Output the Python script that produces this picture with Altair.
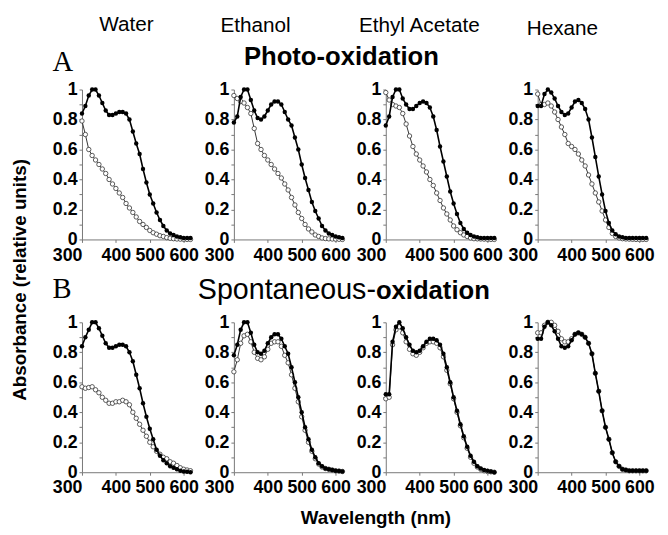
import altair as alt
import pandas as pd

WAVELENGTH = [300, 310, 320, 330, 340, 350, 360, 370, 380, 390, 400, 410, 420, 430, 440,
              450, 460, 470, 480, 490, 500, 510, 520, 530, 540, 550, 560, 570, 580, 590,
              600, 610, 620]

SOLVENTS = ["Water", "Ethanol", "Ethyl Acetate", "Hexane"]
CONDITIONS = ["Photo", "Spontaneous"]

# ---- Photo-oxidation (row A) ----
photo_water_filled = [0.84, 0.89, 0.96, 1.0, 1.0, 0.96, 0.91, 0.86, 0.83, 0.83, 0.84, 0.85, 0.85,
                      0.84, 0.80, 0.72, 0.64, 0.57, 0.47, 0.38, 0.30, 0.24, 0.18, 0.13, 0.09, 0.06,
                      0.04, 0.03, 0.02, 0.015, 0.01, 0.01, 0.01]
photo_water_open = [0.79, 0.70, 0.60, 0.56, 0.53, 0.50, 0.47, 0.44, 0.40, 0.37, 0.34, 0.31, 0.28,
                    0.24, 0.21, 0.18, 0.15, 0.12, 0.10, 0.08, 0.06, 0.045, 0.035, 0.025, 0.02, 0.012,
                    0.008, 0.005, 0.003, 0.002, 0.001, 0.0, 0.0]
photo_ethanol_filled = [0.78, 0.82, 0.95, 1.0, 1.0, 0.93, 0.86, 0.81, 0.80, 0.82, 0.86, 0.90, 0.92,
                        0.92, 0.90, 0.85, 0.80, 0.76, 0.68, 0.60, 0.50, 0.41, 0.33, 0.25, 0.19, 0.14,
                        0.09, 0.06, 0.04, 0.03, 0.02, 0.015, 0.01]
photo_ethanol_open = [0.96, 0.94, 0.92, 0.91, 0.88, 0.84, 0.74, 0.64, 0.60, 0.56, 0.53, 0.50, 0.47,
                      0.44, 0.41, 0.37, 0.33, 0.28, 0.23, 0.18, 0.14, 0.10, 0.07, 0.05, 0.03, 0.02,
                      0.01, 0.006, 0.004, 0.003, 0.002, 0.001, 0.0]
photo_ethyl_filled = [0.76, 0.82, 0.95, 1.0, 1.0, 0.94, 0.90, 0.87, 0.87, 0.89, 0.91, 0.92, 0.91,
                      0.88, 0.82, 0.73, 0.62, 0.52, 0.42, 0.32, 0.24, 0.17, 0.11, 0.07, 0.045, 0.03,
                      0.02, 0.015, 0.01, 0.01, 0.01, 0.01, 0.01]
photo_ethyl_open = [0.98, 0.93, 0.90, 0.89, 0.88, 0.84, 0.77, 0.69, 0.62, 0.57, 0.53, 0.49, 0.45,
                    0.40, 0.36, 0.31, 0.26, 0.21, 0.17, 0.13, 0.09, 0.065, 0.045, 0.03, 0.02, 0.01,
                    0.005, 0.004, 0.003, 0.002, 0.001, 0.0, 0.0]
photo_hexane_filled = [0.89, 0.89, 0.97, 1.0, 0.98, 0.94, 0.89, 0.85, 0.83, 0.84, 0.88, 0.92, 0.93,
                       0.91, 0.87, 0.80, 0.68, 0.55, 0.42, 0.30, 0.19, 0.11, 0.06, 0.035, 0.02, 0.015,
                       0.01, 0.01, 0.01, 0.01, 0.01, 0.01, 0.01]
photo_hexane_open = [0.97, 0.90, 0.90, 0.91, 0.89, 0.85, 0.80, 0.75, 0.70, 0.64, 0.62, 0.60, 0.57,
                     0.53, 0.49, 0.43, 0.37, 0.31, 0.25, 0.19, 0.13, 0.08, 0.04, 0.02, 0.01, 0.005,
                     0.003, 0.002, 0.001, 0.0, 0.0, 0.0, 0.0]

# ---- Spontaneous-oxidation (row B) ----
spont_water_filled = [0.84, 0.90, 0.95, 1.0, 1.0, 0.96, 0.91, 0.86, 0.83, 0.83, 0.84, 0.85, 0.85,
                      0.84, 0.80, 0.74, 0.65, 0.56, 0.46, 0.37, 0.29, 0.22, 0.15, 0.11, 0.08, 0.06,
                      0.04, 0.03, 0.02, 0.01, 0.005, 0.003, 0.0]
spont_water_open = [0.57, 0.56, 0.565, 0.57, 0.55, 0.53, 0.50, 0.48, 0.46, 0.46, 0.47, 0.47, 0.48,
                    0.47, 0.45, 0.40, 0.36, 0.32, 0.28, 0.24, 0.20, 0.17, 0.14, 0.12, 0.10, 0.09,
                    0.07, 0.06, 0.045, 0.03, 0.02, 0.015, 0.01]
spont_ethanol_filled = [0.78, 0.85, 0.95, 1.0, 1.0, 0.93, 0.85, 0.80, 0.79, 0.81, 0.86, 0.90, 0.92,
                        0.92, 0.89, 0.84, 0.79, 0.70, 0.60, 0.50, 0.40, 0.30, 0.22, 0.15, 0.10, 0.06,
                        0.04, 0.025, 0.02, 0.015, 0.01, 0.008, 0.005]
spont_ethanol_open = [0.67, 0.75, 0.86, 0.91, 0.92, 0.87, 0.80, 0.76, 0.75, 0.77, 0.82, 0.86, 0.87,
                      0.87, 0.84, 0.78, 0.73, 0.65, 0.56, 0.47, 0.37, 0.28, 0.20, 0.14, 0.09, 0.055,
                      0.035, 0.025, 0.02, 0.015, 0.01, 0.008, 0.005]
spont_ethyl_filled = [0.52, 0.52, 0.87, 0.97, 1.0, 0.96, 0.90, 0.85, 0.81, 0.80, 0.81, 0.84, 0.87,
                      0.89, 0.89, 0.88, 0.85, 0.79, 0.70, 0.60, 0.50, 0.41, 0.32, 0.24, 0.17, 0.11,
                      0.07, 0.04, 0.025, 0.015, 0.01, 0.005, 0.0]
spont_ethyl_open = [0.49, 0.50, 0.85, 0.95, 0.97, 0.93, 0.87, 0.82, 0.79, 0.78, 0.80, 0.83, 0.86,
                    0.87, 0.87, 0.86, 0.83, 0.77, 0.68, 0.59, 0.49, 0.40, 0.31, 0.23, 0.16, 0.10,
                    0.06, 0.035, 0.02, 0.01, 0.005, 0.003, 0.0]
spont_hexane_filled = [0.89, 0.89, 0.97, 1.0, 0.98, 0.94, 0.89, 0.84, 0.83, 0.84, 0.88, 0.92, 0.93,
                       0.92, 0.90, 0.86, 0.79, 0.66, 0.54, 0.41, 0.30, 0.22, 0.13, 0.07, 0.04, 0.02,
                       0.015, 0.01, 0.01, 0.01, 0.01, 0.01, 0.01]
spont_hexane_open = [0.93, 0.93, 0.98, 1.0, 1.0, 0.98, 0.94, 0.89, 0.87, 0.87, 0.89, 0.92, 0.93,
                     0.92, 0.90, 0.86, 0.79, 0.66, 0.54, 0.41, 0.30, 0.22, 0.13, 0.07, 0.04, 0.02,
                     0.015, 0.01, 0.01, 0.01, 0.01, 0.01, 0.01]

SERIES = {
    ("Photo", "Water"): (photo_water_filled, photo_water_open),
    ("Photo", "Ethanol"): (photo_ethanol_filled, photo_ethanol_open),
    ("Photo", "Ethyl Acetate"): (photo_ethyl_filled, photo_ethyl_open),
    ("Photo", "Hexane"): (photo_hexane_filled, photo_hexane_open),
    ("Spontaneous", "Water"): (spont_water_filled, spont_water_open),
    ("Spontaneous", "Ethanol"): (spont_ethanol_filled, spont_ethanol_open),
    ("Spontaneous", "Ethyl Acetate"): (spont_ethyl_filled, spont_ethyl_open),
    ("Spontaneous", "Hexane"): (spont_hexane_filled, spont_hexane_open),
}

rows = []
for (cond, solv), (filled, opened) in SERIES.items():
    for wl, v in zip(WAVELENGTH, filled):
        rows.append({"cond": cond, "solvent": solv, "series": "filled", "wl": wl, "val": v})
    for wl, v in zip(WAVELENGTH, opened):
        rows.append({"cond": cond, "solvent": solv, "series": "open", "wl": wl, "val": v})
df = pd.DataFrame(rows)

W, H = 110, 152
LABEL_FONT = "Liberation Sans, Arial, sans-serif"

x_enc = alt.X(
    "wl:Q",
    title=None,
    scale=alt.Scale(domain=[300, 620], nice=False, zero=False),
    axis=alt.Axis(
        values=[300, 400, 500, 600],
        labelAlign={"condition": {"test": "datum.value == 300", "value": "right"}, "value": "center"},
        tickSize=3,
        labelPadding=4,
    ),
)
y_enc = alt.Y(
    "val:Q",
    title=None,
    scale=alt.Scale(domain=[0, 1], nice=False),
    axis=alt.Axis(
        values=[0, 0.1, 0.2, 0.3, 0.4, 0.5, 0.6, 0.7, 0.8, 0.9, 1.0],
        labelExpr="datum.value == 0 ? '0' : (datum.value == 1 ? '1' : (round(datum.value*10) % 2 == 0 ? format(datum.value, '.1f') : ''))",
        tickSize=3,
        labelPadding=2,
    ),
)


def panel(cond, solvent):
    base = alt.Chart(df).transform_filter(
        (alt.datum.cond == cond) & (alt.datum.solvent == solvent)
    )
    op = base.transform_filter(alt.datum.series == "open")
    fi = base.transform_filter(alt.datum.series == "filled")
    layers = [
        op.mark_line(color="#333333", strokeWidth=1).encode(x=x_enc, y=y_enc),
        op.mark_point(shape="circle", filled=True, fill="white", stroke="#333333",
                      strokeWidth=0.8, size=20, opacity=1).encode(x=x_enc, y=y_enc),
        fi.mark_line(color="black", strokeWidth=1.6).encode(x=x_enc, y=y_enc),
        fi.mark_circle(color="black", size=20, opacity=1).encode(x=x_enc, y=y_enc),
    ]
    return layers


one = pd.DataFrame({"a": [0]})


def label(text, x, y, size, weight="normal", font=LABEL_FONT, align="center", angle=0):
    kw = dict(text=text, fontSize=size, fontWeight=weight, font=font, align=align,
              baseline="alphabetic", color="black")
    if angle:
        kw["angle"] = angle
    return alt.Chart(one).mark_text(**kw).encode(x=alt.value(x), y=alt.value(y))


annotations = [
    label("Water", 45, -59, 21),
    label("Ethanol", 176, -58, 21),
    label("Ethyl Acetate", 342, -58, 21),
    label("Hexane", 487, -55, 21),
    label("A", -30, -19, 29, font="Liberation Serif, Times New Roman, serif", align="left"),
    label("Photo-oxidation", 263, -25, 26, weight="bold"),
    label("B", -30, 211, 29, font="Liberation Serif, Times New Roman, serif", align="left"),
    label("Spontaneous-", 298, 212, 29, align="right"),
    label("oxidation", 298, 212, 26, weight="bold", align="left"),
    label("Absorbance (relative units)", -57, 193, 19, weight="bold", angle=270),
    label("Wavelength (nm)", 298, 440, 19, weight="bold"),
]

panels = []
for cond in CONDITIONS:
    for j, solv in enumerate(SOLVENTS):
        layers = panel(cond, solv)
        if cond == "Photo" and j == 0:
            layers = layers + annotations
        panels.append(alt.layer(*layers).properties(width=W, height=H))

chart = alt.concat(
    *panels, columns=4, spacing={"row": 84, "column": 44}, bounds="flush"
).properties(
    padding={"left": 3, "top": 3, "right": 5, "bottom": 5}
).configure_view(stroke=None).configure_axis(
    labelFont=LABEL_FONT,
    labelFontSize=18,
    labelFontWeight="bold",
    labelColor="black",
    domainColor="#777777",
    tickColor="#777777",
    grid=False,
    labelOverlap=False,
    labelFlush=False,
)

chart.save("out.html", embed_options={"renderer": "svg", "actions": False})
